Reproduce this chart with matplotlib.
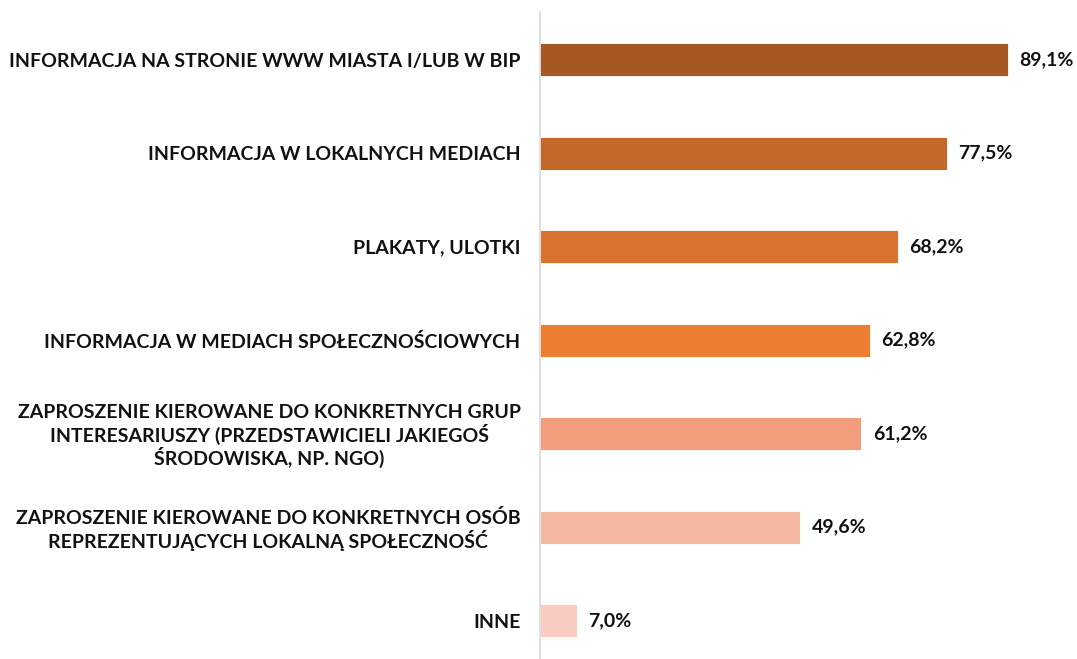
import matplotlib
matplotlib.use('Agg')
import matplotlib.pyplot as plt

# ── Data ───────────────────────────────────────────────────────────────────
categories = [
    "INFORMACJA NA STRONIE WWW MIASTA I/LUB W BIP",
    "INFORMACJA W LOKALNYCH MEDIACH",
    "PLAKATY, ULOTKI",
    "INFORMACJA W MEDIACH SPOŁECZNOŚCIOWYCH",
    "ZAPROSZENIE KIEROWANE DO KONKRETNYCH GRUP\nINTERESARIUSZY (PRZEDSTAWICIELI JAKIEGOŚ\nŚRODOWISKA, NP. NGO)",
    "ZAPROSZENIE KIEROWANE DO KONKRETNYCH OSÓB\nREPREZENTUJĄCYCH LOKALNĄ SPOŁECZNOŚĆ",
    "INNE",
]
values = [89.1, 77.5, 68.2, 62.8, 61.2, 49.6, 7.0]
colors = ["#A65823", "#C4672B", "#D9722F", "#ED7D31", "#F09E7B", "#F4B9A3", "#F8CDBF"]

plt.rcParams["font.family"] = ["Lato", "DejaVu Sans"]

fig = plt.figure(figsize=(10.77, 6.59), dpi=100)
ax = fig.add_axes([540 / 1077, 0.0, 525 / 1077, 1 - 12 / 659])

y = range(len(values))
ax.barh(y, values, height=0.35, color=colors, edgecolor="white", linewidth=0.6)

for yi, v in zip(y, values):
    ax.text(v + 2.2, yi, f"{v:.1f}%".replace(".", ","), va="center", ha="left",
            fontsize=14, fontweight="bold", color="#111111")

ax.set_xlim(0, 100)
ax.set_ylim(6.41, -0.51)
ax.set_yticks(list(y))
ax.set_yticklabels(categories, fontsize=14, fontweight="bold", color="#111111",
                   multialignment="center", linespacing=1.13)
ax.tick_params(axis="y", length=0, pad=14)
ax.set_xticks([])

for s in ["top", "right", "bottom"]:
    ax.spines[s].set_visible(False)
ax.spines["left"].set_color("#d9d9d9")
ax.spines["left"].set_linewidth(1.2)

fig.savefig("out.png", dpi=100, facecolor="white")
